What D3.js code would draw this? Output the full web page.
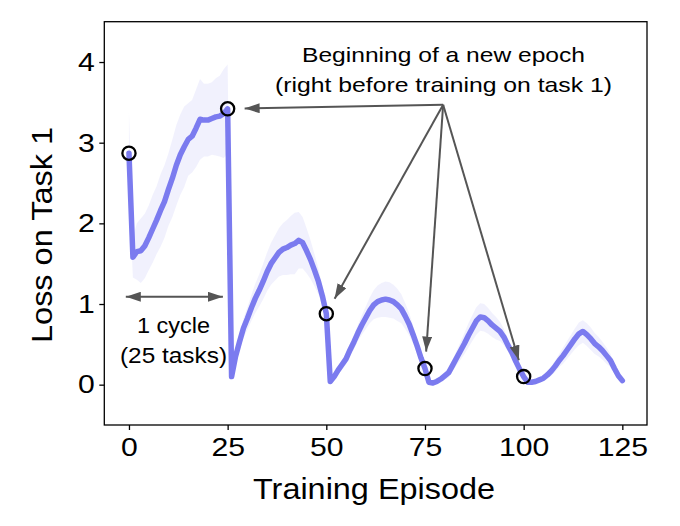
<!DOCTYPE html>
<html><head><meta charset="utf-8">
<script src="https://cdn.jsdelivr.net/npm/d3@7"></script>
<style>body{margin:0;background:#fff}svg{display:block}text{font-family:"Liberation Sans",Arial,sans-serif;fill:#000}</style>
</head><body><svg id="c" width="680" height="526"></svg>
<script>
const episodes = d3.range(0, 126);
const loss = [
2.87,1.58,1.65,1.66,1.72,1.82,1.93,2.04,2.16,2.27,2.42,2.56,2.72,2.85,2.95,3.04,3.08,3.18,3.29,3.28,3.28,3.30,3.32,3.33,3.36,3.42,
0.10,0.35,0.53,0.70,0.82,0.95,1.07,1.17,1.28,1.40,1.50,1.57,1.64,1.68,1.70,1.73,1.75,1.79,1.76,1.66,1.55,1.42,1.28,1.10,0.88,
0.04,0.10,0.18,0.25,0.32,0.43,0.53,0.64,0.74,0.83,0.92,0.99,1.03,1.05,1.06,1.05,1.03,0.99,0.94,0.85,0.75,0.62,0.48,0.33,0.20,
0.03,0.02,0.04,0.07,0.11,0.15,0.24,0.33,0.42,0.51,0.61,0.70,0.79,0.84,0.83,0.79,0.74,0.70,0.66,0.59,0.49,0.40,0.29,0.19,0.10,
0.03,0.03,0.04,0.06,0.08,0.12,0.17,0.23,0.30,0.36,0.43,0.50,0.57,0.63,0.66,0.62,0.57,0.51,0.47,0.42,0.36,0.30,0.20,0.11,0.05];
const spread = [
0.50,0.25,0.35,0.40,0.40,0.40,0.42,0.42,0.45,0.45,0.45,0.48,0.50,0.50,0.50,0.45,0.45,0.48,0.50,0.45,0.45,0.45,0.48,0.50,0.55,0.55,
0.05,0.08,0.10,0.12,0.14,0.16,0.18,0.20,0.22,0.24,0.26,0.28,0.30,0.32,0.34,0.36,0.38,0.35,0.32,0.28,0.24,0.20,0.16,0.12,0.08,
0.03,0.04,0.05,0.06,0.07,0.08,0.09,0.10,0.12,0.14,0.16,0.18,0.20,0.21,0.22,0.22,0.21,0.20,0.18,0.16,0.14,0.11,0.08,0.06,0.05,
0.02,0.03,0.03,0.04,0.05,0.06,0.07,0.09,0.11,0.13,0.15,0.16,0.17,0.17,0.17,0.16,0.15,0.14,0.12,0.10,0.08,0.07,0.06,0.05,0.04,
0.02,0.02,0.03,0.03,0.04,0.05,0.06,0.07,0.08,0.10,0.11,0.12,0.13,0.14,0.14,0.14,0.14,0.13,0.12,0.11,0.10,0.08,0.06,0.05,0.04];
const epochStarts = [0, 25, 50, 75, 100];
const xTicks = [0, 25, 50, 75, 100, 125];
const yTicks = [0, 1, 2, 3, 4];
const xLabel = "Training Episode";
const yLabel = "Loss on Task 1";
const noteLines = ["Beginning of a new epoch", "(right before training on task 1)"];
const cycleLines = ["1 cycle", "(25 tasks)"];
const arrowTargets = [25, 50, 75, 100];

const svg = d3.select("#c");
const L = 104.3, R = 647, T = 21.7, B = 425;
const x = d3.scaleLinear().domain([-6.25, 131.25]).range([L, R]);
const y = d3.scaleLinear().domain([-0.5, 4.5]).range([B, T]);
const lineColor = "#7b7bef", arrowColor = "#555555";

function stretchTo(sel, w){ sel.attr("textLength", w).attr("lengthAdjust","spacingAndGlyphs"); }
function stretchBy(sel, f){ sel.each(function(){ const w=this.getComputedTextLength();
  d3.select(this).attr("textLength", w*f).attr("lengthAdjust","spacingAndGlyphs"); }); }

const defs = svg.append("defs");
defs.append("marker").attr("id","ah").attr("viewBox","0 0 15 10").attr("refX",15).attr("refY",5)
  .attr("markerWidth",15).attr("markerHeight",10).attr("markerUnits","userSpaceOnUse").attr("orient","auto-start-reverse")
  .append("path").attr("d","M0,0 L15,5 L0,10 Z").attr("fill",arrowColor);

const pts = episodes.map((e,i)=>({x:e,y:loss[i],s:spread[i]}));
svg.append("path").datum(pts)
  .attr("d", d3.area().x(d=>x(d.x)).y0(d=>y(d.y-d.s)).y1(d=>y(d.y+d.s)))
  .attr("fill", lineColor).attr("fill-opacity", 0.11);
svg.append("path").datum(pts)
  .attr("d", d3.line().x(d=>x(d.x)).y(d=>y(d.y)))
  .attr("fill","none").attr("stroke",lineColor).attr("stroke-width",5.5).attr("stroke-linejoin","round").attr("stroke-linecap","round");

svg.selectAll("circle.ep").data(epochStarts).join("circle").attr("class","ep")
  .attr("cx", d=>x(d)).attr("cy", d=>y(loss[d])).attr("r",6.6)
  .attr("fill","none").attr("stroke","#000").attr("stroke-width",2.3);

svg.append("rect").attr("x",L).attr("y",T).attr("width",R-L).attr("height",B-T)
  .attr("fill","none").attr("stroke","#000").attr("stroke-width",1.3);

const xa = svg.append("g").attr("transform",`translate(0,${B})`)
  .call(d3.axisBottom(x).tickValues(xTicks).tickSize(5).tickPadding(8).tickFormat(d3.format("d")));
const ya = svg.append("g").attr("transform",`translate(${L},0)`)
  .call(d3.axisLeft(y).tickValues(yTicks).tickSize(5).tickPadding(4.5).tickFormat(d3.format("d")));
[xa,ya].forEach(a=>{a.select(".domain").remove();
  a.selectAll("text").attr("font-size",26).attr("font-family","Liberation Sans, Arial, sans-serif").attr("fill","#000");
  a.selectAll("line").attr("stroke","#000").attr("stroke-width",1.3);
  stretchBy(a.selectAll("text"), 1.16);});

stretchTo(svg.append("text").attr("x",374).attr("y",498.5).attr("text-anchor","middle").attr("font-size",30).text(xLabel), 242);
stretchTo(svg.append("text").attr("transform","translate(52,235) rotate(-90)").attr("text-anchor","middle").attr("font-size",30).text(yLabel), 216);

const ox = 79.6, oy = 3.47;
const O = [x(ox), y(oy)];
arrowTargets.forEach(t=>{
  const tx = x(t), ty = y(loss[t]);
  const dx = tx-O[0], dy = ty-O[1], len = Math.hypot(dx,dy);
  const sh = 17;
  svg.append("line").attr("x1",O[0]).attr("y1",O[1])
    .attr("x2",tx-dx/len*sh).attr("y2",ty-dy/len*sh)
    .attr("stroke",arrowColor).attr("stroke-width",2).attr("marker-end","url(#ah)");
});
const noteW = [283, 337];
noteLines.forEach((s,i)=>stretchTo(svg.append("text").attr("x",443.5).attr("y",62+i*30)
  .attr("text-anchor","middle").attr("font-size",21).text(s), noteW[i]));

svg.append("line").attr("x1",x(-0.8)).attr("x2",x(23.8)).attr("y1",y(1.09)).attr("y2",y(1.09))
  .attr("stroke",arrowColor).attr("stroke-width",2)
  .attr("marker-start","url(#ah)").attr("marker-end","url(#ah)");
const cycW = [73, 107];
cycleLines.forEach((s,i)=>stretchTo(svg.append("text").attr("x",173.5).attr("y",333+i*30)
  .attr("text-anchor","middle").attr("font-size",21.5).text(s), cycW[i]));
</script></body></html>
